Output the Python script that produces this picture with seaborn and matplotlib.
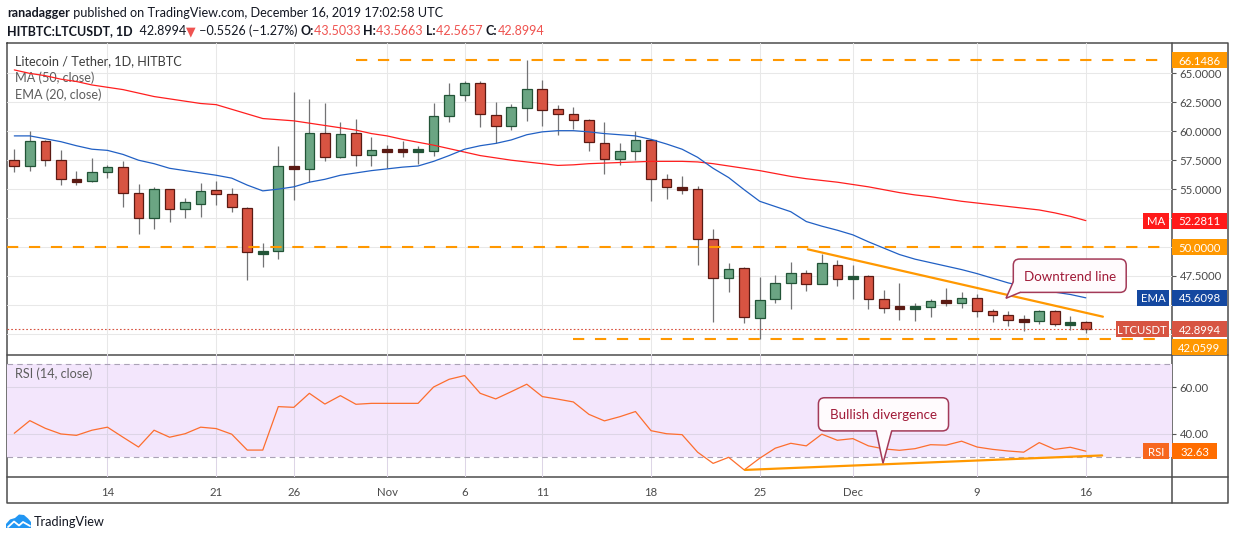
import numpy as np
import pandas as pd
import matplotlib.pyplot as plt
import matplotlib.transforms as mtransforms
from matplotlib.patches import Rectangle, FancyBboxPatch, Polygon
import seaborn as sns


# ---- data (LTC/USDT daily, HitBTC) ----
dates = pd.date_range("2019-10-08", "2019-12-16", freq="D")

opens = [57.49, 56.97, 59.14, 57.49, 55.85, 55.68, 56.46, 56.89, 54.64, 52.48,
         54.99, 53.29, 53.69, 54.90, 54.55, 53.34, 49.48, 49.63, 56.92, 56.71,
         59.83, 57.75, 59.83, 57.93, 58.36, 58.36, 58.28, 58.27, 61.30, 63.11,
         64.15, 61.38, 60.43, 61.99, 63.63, 61.90, 61.47, 60.95, 58.96, 57.58,
         58.27, 59.22, 55.85, 55.10, 54.99, 50.66, 47.29, 48.16, 43.83, 45.48,
         46.86, 47.72, 46.77, 48.41, 47.30, 47.46, 45.48, 44.80, 44.74, 44.78,
         45.39, 45.13, 45.56, 44.44, 44.09, 43.68, 43.57, 44.44, 43.23, 43.5033]
highs = [58.44, 60.03, 59.25, 58.39, 56.57, 57.69, 57.09, 57.43, 55.42, 55.16,
         54.99, 54.21, 55.50, 55.68, 55.07, 53.43, 50.35, 58.73, 63.42, 62.80,
         62.48, 60.78, 61.04, 59.48, 58.79, 59.16, 58.70, 62.45, 64.18, 64.32,
         64.32, 62.54, 62.36, 66.14, 64.44, 62.28, 62.10, 61.04, 60.81, 58.96,
         60.03, 59.31, 56.31, 56.11, 55.24, 51.53, 48.59, 48.24, 47.38, 47.55,
         48.67, 48.01, 49.37, 48.88, 48.41, 47.55, 46.28, 46.86, 45.19, 45.50,
         46.46, 46.08, 45.91, 44.61, 44.44, 44.15, 44.52, 44.52, 44.03, 43.5663]
lows = [56.51, 56.60, 57.03, 55.39, 55.39, 55.59, 55.99, 53.49, 51.10, 51.53,
        52.19, 52.51, 52.62, 53.63, 53.00, 47.18, 48.30, 48.99, 54.09, 55.59,
        57.41, 57.67, 56.97, 57.03, 56.80, 57.81, 57.20, 57.90, 60.84, 62.65,
        60.40, 58.99, 60.14, 60.92, 60.46, 59.71, 60.20, 58.33, 56.34, 57.09,
        57.55, 54.01, 54.18, 54.61, 48.47, 43.54, 46.14, 43.46, 42.05, 45.19,
        44.61, 46.22, 46.77, 46.66, 45.53, 44.67, 44.32, 43.72, 43.63, 43.98,
        44.93, 44.76, 43.98, 43.52, 43.20, 42.77, 43.37, 43.17, 42.82, 42.5657]
closes = [56.97, 59.14, 57.49, 55.85, 55.72, 56.46, 56.89, 54.64, 52.48, 54.99,
          53.29, 53.86, 54.81, 54.55, 53.43, 49.54, 49.54, 56.97, 56.80, 59.83,
          57.75, 59.74, 57.93, 58.36, 58.30, 58.30, 58.33, 61.30, 63.11, 64.15,
          61.47, 60.43, 62.07, 63.63, 61.82, 61.47, 60.95, 59.05, 57.58, 58.27,
          59.22, 55.85, 55.16, 55.02, 50.66, 47.29, 48.07, 43.92, 45.39, 46.86,
          47.72, 46.77, 48.59, 47.20, 47.38, 45.48, 44.70, 44.74, 44.79, 45.30,
          45.13, 45.56, 44.44, 44.09, 43.66, 43.62, 44.44, 43.31, 43.49, 42.8994]

ma50 = [65.3, 65.0, 64.8, 64.5, 64.3, 64.0, 63.8, 63.6, 63.3, 63.0,
        62.8, 62.6, 62.4, 62.3, 61.9, 61.5, 61.1, 61.0, 60.9, 60.7,
        60.5, 60.3, 60.1, 59.8, 59.6, 59.3, 59.05, 58.8, 58.5, 58.2,
        57.9, 57.7, 57.5, 57.35, 57.2, 57.05, 57.1, 57.2, 57.25, 57.3,
        57.35, 57.4, 57.4, 57.4, 57.35, 57.2, 57.0, 56.8, 56.6, 56.35,
        56.1, 55.9, 55.75, 55.6, 55.4, 55.2, 54.95, 54.7, 54.5, 54.35,
        54.15, 53.95, 53.8, 53.65, 53.5, 53.35, 53.2, 52.95, 52.65, 52.2811]
ema20 = [59.6, 59.6, 59.35, 59.1, 58.75, 58.45, 58.35, 58.0, 57.5, 57.2,
         56.8, 56.6, 56.4, 56.2, 55.95, 55.35, 54.85, 55.0, 55.2, 55.6,
         55.85, 56.2, 56.4, 56.6, 56.75, 56.9, 57.0, 57.4, 57.9, 58.45,
         58.75, 58.95, 59.25, 59.7, 59.95, 60.05, 60.05, 59.95, 59.8, 59.7,
         59.6, 59.3, 58.9, 58.45, 57.75, 56.8, 56.0, 54.95, 53.95, 53.5,
         53.05, 52.2, 51.8, 51.45, 51.05, 50.45, 49.9, 49.35, 48.95, 48.65,
         48.35, 48.05, 47.7, 47.3, 46.9, 46.6, 46.35, 46.1, 45.9, 45.6098]
rsi14 = [40.3, 45.7, 42.4, 40.0, 39.4, 41.6, 42.9, 38.6, 34.4, 41.6,
         38.6, 40.1, 42.9, 42.3, 39.9, 33.1, 33.1, 51.7, 51.4, 57.4,
         52.8, 56.4, 52.7, 53.1, 53.1, 53.1, 53.1, 60.1, 63.4, 65.0,
         57.4, 55.0, 58.1, 61.3, 56.0, 54.9, 53.7, 48.4, 45.6, 47.4,
         49.6, 41.4, 40.1, 39.7, 32.2, 27.4, 30.0, 24.6, 29.6, 33.9,
         36.0, 34.9, 39.9, 37.3, 38.0, 34.9, 33.6, 33.0, 33.7, 35.4,
         35.2, 36.9, 34.4, 33.4, 32.7, 32.2, 36.3, 33.4, 34.3, 32.63]

tick_dates = ["2019-10-14", "2019-10-21", "2019-10-26", "2019-11-01", "2019-11-06",
              "2019-11-11", "2019-11-18", "2019-11-25", "2019-12-01", "2019-12-09",
              "2019-12-16"]
tick_labels = ["14", "21", "26", "Nov", "6", "11", "18", "25", "Dec", "9", "16"]
price_ticks = [42.5, 45.0, 47.5, 50.0, 52.5, 55.0, 57.5, 60.0, 62.5, 65.0]
hidden_ticks = [42.5, 45.0, 52.5]   # covered by the price tags on the chart
rsi_ticks = [40, 60]

resistance, pivot, support = 66.1486, 50.0, 42.0599
last_close, last_ma, last_ema, last_rsi = 42.8994, 52.2811, 45.6098, 32.63

downtrend_x = [51.1, 70.1]
downtrend_y = [49.80, 43.98]
rsi_trend_x = [47.05, 70.05]
rsi_trend_y = [24.6, 30.8]

# ---- layout (pixels) ----
W, H = 1234, 540
L, R, T, MID, BOT, END, EDGE = 7, 1171.7, 43.3, 355, 476.7, 503.3, 1227.5

ORANGE = "#ff9800"
FONT = ["Lato", "DejaVu Sans"]

sns.set_theme(style="white")
plt.rcParams["font.family"] = FONT
plt.rcParams["lines.scale_dashes"] = False

fig = plt.figure(figsize=(W / 100, H / 100), dpi=100)

# overlay in pixel coords for the frame, header and logo
ov = fig.add_axes([0, 0, 1, 1], facecolor="none")
ov.set_xlim(0, W)
ov.set_ylim(H, 0)
ov.axis("off")
ov.set_zorder(-1)

ax = fig.add_axes([L / W, 1 - MID / H, (R - L) / W, (MID - T) / H], facecolor="none")
ax2 = fig.add_axes([L / W, 1 - BOT / H, (R - L) / W, (BOT - MID) / H], facecolor="none")

x = np.arange(len(dates))
o, hi, lo, c = (np.array(a) for a in (opens, highs, lows, closes))
tick_pos = [dates.get_loc(pd.Timestamp(d)) for d in tick_dates]

# ---- candles ----
up = c >= o
body = np.abs(c - o)
doji = body < 0.3
bottom = np.where(doji, (o + c) / 2 - 0.13, np.minimum(o, c))
height = np.where(doji, 0.26, body)
edge = np.where(up, "#225437", "#5b1a13")
face = np.where(doji, edge, np.where(up, "#6ba583", "#d75442"))
ax.vlines(x, lo, hi, colors="#737375", lw=0.9, zorder=2)
ax.bar(x, height, bottom=bottom, width=0.62, color=face, edgecolor=edge,
       linewidth=0.9, zorder=3)

sns.lineplot(x=x, y=ma50, ax=ax, color="#ff1f1f", lw=0.9, zorder=4)
sns.lineplot(x=x, y=ema20, ax=ax, color="#2160c4", lw=0.9, zorder=4)

dash = (0, (8.1, 7.7))
ax.plot([22.0, 73.8], [resistance] * 2, color=ORANGE, lw=1.5, ls=dash, zorder=5)
ax.plot([-0.47, 73.8], [pivot] * 2, color=ORANGE, lw=1.5, ls=dash, zorder=5)
ax.plot([36.0, 73.8], [support] * 2, color=ORANGE, lw=1.5, ls=dash, zorder=5)
ax.axhline(last_close, color="#d75442", lw=0.8, ls=(0, (1.2, 1.5)), zorder=5)
ax.plot(downtrend_x, downtrend_y, color=ORANGE, lw=1.6, zorder=6)

ax.set_xlim(-0.47, 74.53)
ax.set_ylim(40.67, 67.6)

# ---- RSI pane ----
ax2.axhspan(30, 70, color="#f3e6fc", lw=0, zorder=0)
ax2.axhline(70, color="#aaa2b6", lw=0.8, ls=(0, (4, 3)), zorder=1)
ax2.axhline(30, color="#aaa2b6", lw=0.8, ls=(0, (4, 3)), zorder=1)
sns.lineplot(x=x, y=rsi14, ax=ax2, color="#fd6e2e", lw=0.9, zorder=4)
ax2.plot(rsi_trend_x, rsi_trend_y, color=ORANGE, lw=1.6, zorder=5)
ax2.set_xlim(-0.47, 74.53)
ax2.set_ylim(21.7, 73.8)

for a, gc in ((ax, "#e8e8e8"), (ax2, "#ddd5e6")):
    for s in a.spines.values():
        s.set_visible(False)
    a.grid(True, color=gc, lw=0.75, zorder=0)
    a.set_axisbelow(True)
    a.set_xticks(tick_pos)
    a.yaxis.tick_right()
    a.tick_params(axis="y", direction="out", length=3, width=0.8, color="#555555",
                  pad=2.6, labelsize=8.2, labelcolor="#4a4a4a")
    a.set_xlabel("")
    a.set_ylabel("")

ax.set_yticks(price_ticks)
ax.set_yticklabels(["" if v in hidden_ticks else f"{v:.4f}" for v in price_ticks])
ax.tick_params(axis="x", length=0, labelbottom=False)
ax2.set_yticks(rsi_ticks)
ax2.set_yticklabels([f"{v:.2f}" for v in rsi_ticks])
ax2.set_xticklabels(tick_labels)
ax2.tick_params(axis="x", direction="out", length=2.5, width=0.8, color="#555555",
                pad=5, labelsize=8.2, labelcolor="#4a4a4a")


# ---- price tags on the right axis ----
def tag(a, y, text, color, x_px, w_px, half_h):
    tr = mtransforms.blended_transform_factory(a.transAxes, a.transData)
    aw = R - L
    a.add_patch(Rectangle((1 + x_px / aw, y - half_h), w_px / aw, 2 * half_h,
                          transform=tr, color=color, lw=0, clip_on=False, zorder=20))
    a.text(1 + (x_px + w_px / 2) / aw, y, text, transform=tr, ha="center",
           va="center_baseline", color="white", fontsize=8.2, clip_on=False, zorder=21)


hh = 8 / 11.57
tag(ax, resistance, f"{resistance:.4f}", ORANGE, 0.3, 55, hh)
tag(ax, last_ma, f"{last_ma:.4f}", "#ff1a1a", 0.3, 55, hh)
tag(ax, last_ma, "MA", "#ff1a1a", -28.7, 26, hh)
tag(ax, pivot, f"{pivot:.4f}", ORANGE, 0.3, 55, hh)
tag(ax, last_ema, f"{last_ema:.4f}", "#1448a0", 0.3, 55, hh)
tag(ax, last_ema, "EMA", "#1448a0", -34.7, 32, hh)
tag(ax, last_close, f"{last_close:.4f}", "#d75442", 0.3, 55, hh)
tag(ax, last_close, "LTCUSDT", "#d75442", -56, 53.3, hh)
tag(ax, support - 0.7, f"{support:.4f}", ORANGE, 0.3, 55, hh)
rh = 8 / 2.335
tag(ax2, last_rsi, f"{last_rsi:.2f}", "#ff6d00", 0.3, 45, rh)
tag(ax2, last_rsi, "RSI", "#f7671f", -28.7, 26, rh)


# ---- callouts ----
def callout(a, x0, x1, y0, y1, aspect, tail, text):
    box = FancyBboxPatch((x0, y0), x1 - x0, y1 - y0,
                         boxstyle="round,pad=0,rounding_size=0.4",
                         mutation_aspect=aspect, facecolor="#fffbfd",
                         edgecolor="#a33a58", lw=1.1, zorder=30)
    a.add_patch(box)
    a.add_patch(Polygon(tail, closed=True, facecolor="#fffbfd", lw=0, zorder=31))
    tx, ty = zip(*tail[:3])
    a.plot(tx, ty, color="#a33a58", lw=1.1, zorder=32, solid_joinstyle="miter")
    a.text((x0 + x1) / 2, (y0 + y1) / 2, text, ha="center", va="center_baseline",
           color="#a01a38", fontsize=9.6, zorder=33)


callout(ax, 64.33, 71.6, 46.08, 48.96, 15.53 / 11.57,
        [(64.33, 47.0), (63.86, 45.57), (64.77, 46.08), (64.77, 47.0)], "Downtrend line")
callout(ax2, 51.78, 60.16, 41.3, 55.5, 15.53 / 2.335,
        [(55.5, 41.3), (55.94, 27.45), (56.5, 41.3), (56.5, 43.0), (55.5, 43.0)],
        "Bullish divergence")

# ---- legend texts in the main pane ----
ax.text(0.007, 0.943, "Litecoin / Tether, 1D, HITBTC", transform=ax.transAxes,
        fontsize=9.1, color="#3c3c3c", va="center")
ax.text(0.007, 0.891, "MA (50, close)", transform=ax.transAxes,
        fontsize=9.1, color="#5d5d5d", va="center")
ax.text(0.007, 0.836, "EMA (20, close)", transform=ax.transAxes,
        fontsize=9.1, color="#5d5d5d", va="center")
ax2.text(0.007, 0.85, "RSI (14, close)", transform=ax2.transAxes,
         fontsize=9.1, color="#5d5d5d", va="center")

# ---- frame ----
fc = "#4d4d4d"
ov.plot([L, EDGE, EDGE, L, L], [T, T, END, END, T], color=fc, lw=1.1)
ov.plot([R, R], [T, END], color=fc, lw=1.1)
ov.plot([L, EDGE], [MID, MID], color=fc, lw=1.1)
ov.plot([L, EDGE], [BOT, BOT], color=fc, lw=1.1)


# ---- header ----
def styled(a, x0, y0, parts, size):
    t = a.text(x0, y0, parts[0][0], fontsize=size, va="center", **parts[0][1])
    for s, kw in parts[1:]:
        t = a.annotate(s, xycoords=t, xy=(1, 0), va="bottom", fontsize=size, **kw)


dark = "#131722"
red = "#ef5350"
styled(ov, 7, 13, [("ranadagger", dict(color=dark, weight="bold")),
                   (" published on TradingView.com, December 16, 2019 17:02:58 UTC",
                    dict(color=dark))], 9.1)
styled(ov, 7, 31, [("HITBTC:LTCUSDT, 1D", dict(color=dark, weight="bold")),
                   ("  42.8994", dict(color=dark)),
                   ("▼", dict(color=red)),
                   (" \u22120.5526 (\u22121.27%) ", dict(color=dark)),
                   ("O:", dict(color=dark, weight="bold")), ("43.5033 ", dict(color=red)),
                   ("H:", dict(color=dark, weight="bold")), ("43.5663 ", dict(color=red)),
                   ("L:", dict(color=dark, weight="bold")), ("42.5657 ", dict(color=red)),
                   ("C:", dict(color=dark, weight="bold")), ("42.8994", dict(color=red))], 9.0)

# ---- TradingView logo ----
ov.add_patch(Polygon([(6, 528), (6, 524), (10, 519.5), (15, 518), (19, 514.5), (24, 515),
                      (28, 518.5), (31, 522), (31, 528)], closed=True,
                     facecolor="#2196f3", lw=0))
ov.plot([8, 14, 19, 23, 30], [527, 521.5, 525.5, 522, 526], color="white", lw=1.3)
ov.text(33.5, 521.5, "TradingView", fontsize=9.2, color=dark, va="center")

fig.savefig("out.png", dpi=100)
